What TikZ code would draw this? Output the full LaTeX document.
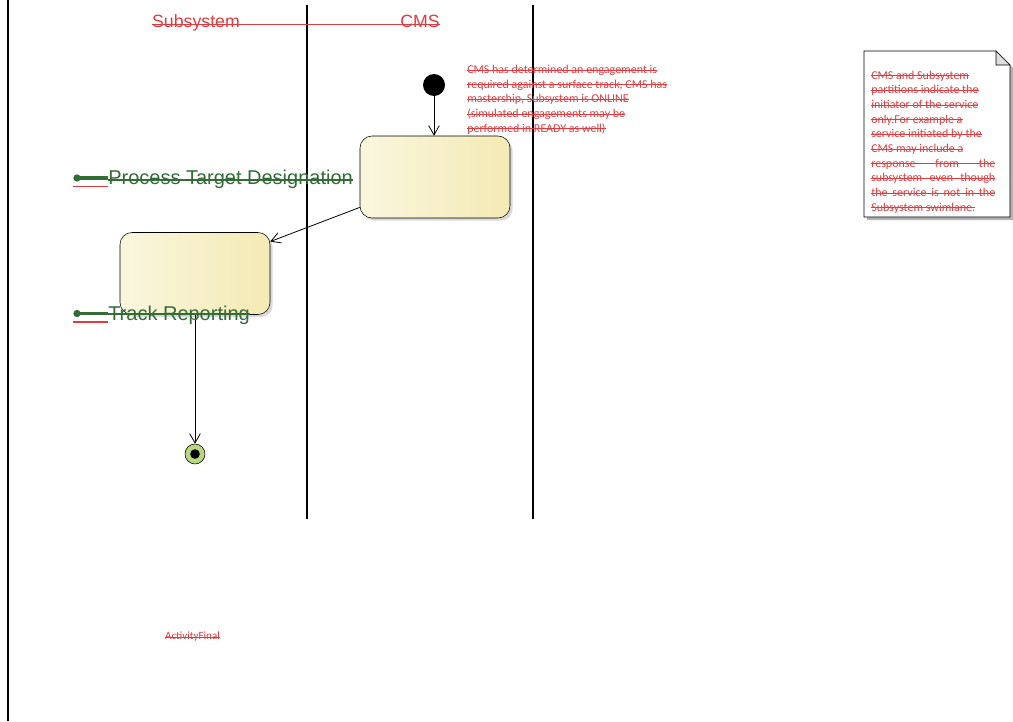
\documentclass[tikz,border=0pt]{standalone}
\usepackage{fontspec}
\newfontfamily\arialfont{Liberation Sans}
\newfontfamily\calfont{Carlito}
\usetikzlibrary{arrows.meta, positioning, shadows, calc}
\newcommand{\strk}[1]{\setbox0\hbox{#1}\rlap{\rule[0.5ex]{\wd0}{0.6pt}}\box0}
\definecolor{laneRed}{RGB}{224,60,64}
\definecolor{labelGreen}{RGB}{52,108,56}
\definecolor{stateLight}{RGB}{250,246,222}
\definecolor{stateDark}{RGB}{244,234,180}
\definecolor{finalGreen}{RGB}{184,214,128}
\definecolor{foldGray}{RGB}{222,222,222}
\tikzstyle{lane} = [line width=1.5pt]
\tikzstyle{header} = [font=\arialfont\fontsize{13.3}{16}\selectfont, text=laneRed, inner sep=0]
\tikzstyle{state} = [draw, rounded corners=9pt, minimum width=112.5pt, minimum height=61.5pt, left color=stateLight, right color=stateDark, drop shadow={shadow xshift=2pt, shadow yshift=-2pt, opacity=0.3}]
\tikzstyle{initial} = [circle, fill=black, minimum size=16.5pt, inner sep=0]
\tikzstyle{final} = [circle, draw, fill=finalGreen, minimum size=15pt, inner sep=0, path picture={\fill[black] (path picture bounding box.center) circle (3.6pt);}]
\tikzstyle{partlabel} = [font=\arialfont\fontsize{15}{18}\selectfont, text=labelGreen, inner sep=0]
\tikzstyle{icondot} = [circle, fill=labelGreen, minimum size=5.5pt, inner sep=0]
\tikzstyle{notetext} = [font=\calfont\fontsize{9}{11}\selectfont, text=laneRed, align=left, inner sep=0]

\begin{document}
\begin{tikzpicture}[x=0.75pt, y=-0.75pt, >={Straight Barb[length=7pt,width=8pt]}]
\useasboundingbox (0,0) rectangle (1013,721);

% swimlanes
\draw[lane] (8,0) -- (8,721);
\draw[lane] (307,5) -- (307,519);
\draw[lane] (533,5) -- (533,519);
\node[header, anchor=base] (subsys) at (196,27) {Subsystem};
\node[header, anchor=base] (cms) at (420,27) {CMS};
\draw[laneRed, thick] (subsys.mid west) -- (cms.mid east);

% activity
\node[initial] (start) at (434,85) {};
\node[state] (engage) at (435,177) {};
\node[state] (report) at (195,273.5) {};
\node[final] (done) at (195,454) {};

\draw[->, line width=0.6pt] (start) -- (start |- engage.north);
\draw[->, line width=0.6pt] (engage.-158) -- (report.23);
\draw[->, line width=0.6pt] (report.south) -- (done);

% partition labels
\node[partlabel, anchor=base west] (ptd) at (108,184) {Process Target Designation};
\draw[labelGreen, line width=0.5pt] ($(ptd.base west)+(0,-5)$) -- ($(ptd.base east)+(0,-5)$);
\draw[labelGreen, line width=0.5pt] ($(ptd.base west)+(0,-3.3)$) -- ($(ptd.base east)+(0,-3.3)$);
\node[icondot] (ptddot) at (77,178) {};
\draw[labelGreen, line width=2.4pt] (ptddot.center) -- ($(ptd.base west)+(0,-6)$);
\draw[laneRed, line width=1.3pt] ($(ptddot)+(-4,8.5)$) -- ($(ptd.base west)+(0,2.5)$);

\node[partlabel, anchor=base west] (trk) at (108,320) {Track Reporting};
\draw[labelGreen, line width=0.5pt] ($(trk.base west)+(0,-7)$) -- ($(trk.base east)+(0,-7)$);
\draw[labelGreen, line width=0.5pt] ($(trk.base west)+(0,-5.3)$) -- ($(trk.base east)+(0,-5.3)$);
\node[icondot] (trkdot) at (77,313.5) {};
\draw[labelGreen, line width=2.4pt] (trkdot.center) -- ($(trk.base west)+(0,-6.5)$);
\draw[laneRed, line width=1.3pt] ($(trkdot)+(-4,8.5)$) -- ($(trk.base west)+(0,2)$);

% notes
\node[notetext, anchor=base west] (premise) at (467,132) {%
\strk{CMS has determined an engagement is}\\
\strk{required against a surface track, CMS has}\\
\strk{mastership, Subsystem is ONLINE}\\
\strk{(simulated engagements may be}\\
\strk{performed in READY as well)}};

\fill[black!30] (867,54) -- (999,54) -- (1013,68) -- (1013,220) -- (867,220) -- cycle;
\draw[fill=white] (864,51) -- (996,51) -- (1010,65) -- (1010,217) -- (864,217) -- cycle;
\draw[fill=foldGray] (996,51) -- (996,65) -- (1010,65) -- cycle;
\node[notetext, anchor=base west] (scopenote) at (871,211) {%
\strk{CMS and Subsystem}\\
\strk{partitions indicate the}\\
\strk{initiator of the service}\\
\strk{only.For example a}\\
\strk{service initiated by the}\\
\strk{CMS may include a}\\
\strk{\makebox[93pt][s]{response from the}}\\
\strk{\makebox[93pt][s]{subsystem even though}}\\
\strk{\makebox[93pt][s]{the service is not in the}}\\
\strk{Subsystem swimlane.}};

\node[font=\calfont\fontsize{8.3}{10}\selectfont, text=laneRed, inner sep=0] (finallabel) at (192.5,637) {\strk{ActivityFinal}};

\end{tikzpicture}
\end{document}
